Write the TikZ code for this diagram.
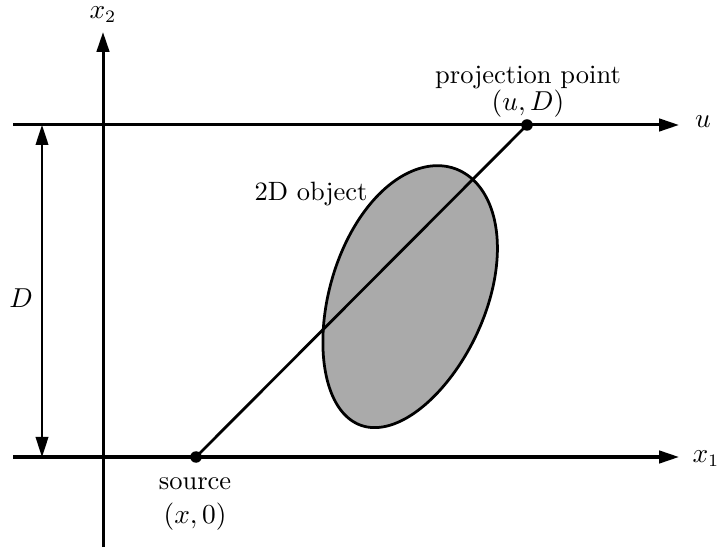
\documentclass[tikz,border=0pt]{standalone}
\usepackage{amsmath}
\usetikzlibrary{arrows.meta}
\definecolor{cObj}{HTML}{AAAAAA}

\begin{document}
\begin{tikzpicture}[x=0.4pt, y=-0.4pt,
  axis/.style={draw, line width=1.2pt, -{Triangle[length=8pt, width=5pt]}},
  span/.style={draw, line width=0.9pt, {Triangle[length=8pt, width=5pt]}-{Triangle[length=8pt, width=5pt]}},
  pt/.style={circle, fill=black, inner sep=0pt, minimum size=4.6pt},
  lab/.style={inner sep=1pt, font=\fontsize{10.6pt}{13pt}\selectfont}]
\useasboundingbox (0,0) rectangle (717,550);
% ---- the object: a tilted oval, centre (408,297), half axes 137 and 78, 20 deg off vertical ----
\filldraw[fill=cObj, line width=1.1pt] plot[domain=0:360, samples=90, smooth cycle]
  ({408 + (78+5*sin(\x))*cos(\x)*cos(20.4) + 136.7*sin(\x)*sin(20.4)},
   {297 - 136.7*sin(\x)*cos(20.4) + (78+5*sin(\x))*cos(\x)*sin(20.4)});
\node[lab] (objlab) at (311,194) {2D object};
% ---- axes ---------------------------------------------------------------------------
\coordinate (x1start) at (13,457);
\coordinate (x1end) at (679,457);
\coordinate (ustart) at (13,125);
\coordinate (uend) at (679,125);
\coordinate (x2start) at (103,547);
\coordinate (x2end) at (103,32);
\node[lab] (x1lab) at (706,459) {$x_1$};
\node[lab] (ulab) at (703,122) {$u$};
\node[lab] (x2lab) at (103,15) {$x_2$};
\draw[axis] (x1start) -- (x1end);
\draw[axis] (ustart) -- (uend);
\draw[axis] (x2start) -- (x2end);
% ---- the distance D -----------------------------------------------------------------
\coordinate (dtop) at (42,125);
\coordinate (dbot) at (42,457);
\draw[span] (dtop) -- (dbot);
\node[lab] (dlab) at (21,298) {$D$};
% ---- the ray from the source to the projection point --------------------------------
\node[pt] (src) at (196,457) {};
\node[pt] (proj) at (527,125) {};
\draw[line width=1.1pt] (src.center) -- (proj.center);
\node[lab] (srclab) at (195,484) {source};
\node[lab] (srcpos) at (195,517) {$(x,0)$};
\node[lab] (projlab) at (528,78) {projection point};
\node[lab] (projpos) at (528,104) {$(u,D)$};
\end{tikzpicture}
\end{document}
